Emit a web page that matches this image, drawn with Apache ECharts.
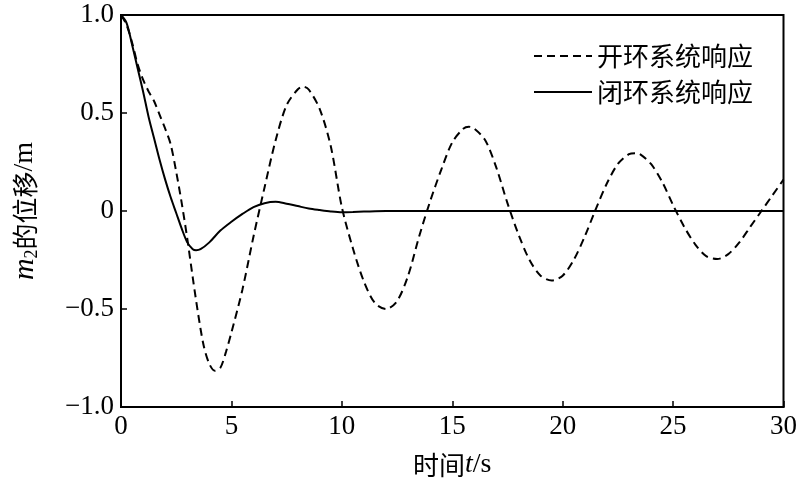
<!DOCTYPE html>
<html>
<head>
<meta charset="utf-8">
<script src="https://cdn.jsdelivr.net/npm/echarts@6/dist/echarts.min.js"></script>
<style>html,body{margin:0;padding:0;background:#fff}#c{width:800px;height:491px}</style>
</head>
<body>
<div id="c"></div>
<script>
// Data
const openT = [0,0.25,0.5,0.75,1.0,1.25,1.5,1.75,2.0,2.25,2.5,2.75,3.0,3.25,3.5,3.75,4.0,4.25,4.5,4.75,5.0,5.5,6.0,6.5,7.0,7.5,8.0,8.25,8.5,9.0,9.5,10.0,10.5,11.0,11.5,12.0,12.5,13.0,13.5,14.0,14.5,15.0,15.5,15.75,16.0,16.5,17.0,17.5,18.0,18.5,19.0,19.5,20.0,20.5,21.0,21.5,22.0,22.5,23.0,23.3,23.5,24.0,24.5,25.0,25.5,26.0,26.5,27.0,27.5,28.0,28.5,29.0,29.5,30.0];
const openV = [1.0,0.95,0.86,0.75,0.67,0.61,0.56,0.49,0.42,0.34,0.20,0.04,-0.14,-0.34,-0.53,-0.69,-0.78,-0.815,-0.80,-0.72,-0.62,-0.40,-0.13,0.12,0.36,0.54,0.62,0.635,0.62,0.52,0.33,0.02,-0.19,-0.36,-0.47,-0.50,-0.46,-0.33,-0.13,0.05,0.21,0.35,0.42,0.43,0.42,0.36,0.22,0.04,-0.12,-0.25,-0.33,-0.355,-0.33,-0.25,-0.13,0.01,0.14,0.24,0.29,0.295,0.29,0.24,0.15,0.03,-0.08,-0.17,-0.23,-0.245,-0.22,-0.16,-0.08,0.0,0.08,0.16];
const closedT = [0,0.25,0.5,0.75,1.0,1.25,1.5,1.75,2.0,2.25,2.5,2.75,3.0,3.25,3.4,3.6,4.0,4.5,5.0,5.5,6.0,6.5,7.0,7.5,8.0,8.5,9.0,9.5,10.0,10.5,11.0,12.0,14.0,16.0,18.0,20.0,22.0,24.0,26.0,28.0,30.0];
const closedV = [1.0,0.96,0.85,0.73,0.61,0.48,0.37,0.26,0.16,0.07,-0.01,-0.09,-0.16,-0.195,-0.20,-0.195,-0.16,-0.10,-0.055,-0.015,0.02,0.04,0.047,0.037,0.025,0.013,0.005,-0.002,-0.006,-0.005,-0.003,0,0,0,0,0,0,0,0,0,0];
const seriesNames = ['开环系统响应','闭环系统响应'];
const xTicks = [0,5,10,15,20,25,30];
const yTicks = [-1.0,-0.5,0,0.5,1.0];

const pair = (t, v) => t.map((x, i) => [x, v[i]]);
const serif = '"Liberation Serif","Times New Roman",serif';
const cjk = '"Noto Sans CJK SC",sans-serif';

const chart = echarts.init(document.getElementById('c'), null, {renderer: 'canvas'});
chart.setOption({
  backgroundColor: '#fff',
  animation: false,
  grid: {left: 121, right: 14, top: 15, bottom: 84, show: true, borderColor: '#000', borderWidth: 2, backgroundColor: 'transparent'},
  legend: {
    orient: 'vertical', right: 42, top: 38, itemGap: 10, itemWidth: 58, itemHeight: 26,
    data: seriesNames,
    itemStyle: {opacity: 0},
    textStyle: {fontFamily: cjk, fontSize: 26, color: '#000', padding: [0,0,0,0]}
  },
  xAxis: {
    type: 'value', min: xTicks[0], max: xTicks[xTicks.length - 1], interval: 5,
    axisLine: {onZero: false, lineStyle: {color: '#000', width: 2}},
    axisTick: {inside: true, length: 6, lineStyle: {color: '#000', width: 1.5}},
    splitLine: {show: false},
    axisLabel: {color: '#000', fontFamily: serif, fontSize: 27, margin: 6},
    name: '{c|时间}{i|t}{s|/s}', nameLocation: 'middle', nameGap: 44,
    nameTextStyle: {rich: {
      c: {fontFamily: cjk, fontSize: 26, color: '#000'},
      i: {fontFamily: serif, fontStyle: 'italic', fontSize: 28, color: '#000'},
      s: {fontFamily: serif, fontSize: 28, color: '#000'}
    }}
  },
  yAxis: {
    type: 'value', min: yTicks[0], max: yTicks[yTicks.length - 1], interval: 0.5,
    axisLine: {onZero: false, lineStyle: {color: '#000', width: 2}},
    axisTick: {inside: true, length: 6, lineStyle: {color: '#000', width: 1.5}},
    splitLine: {show: false},
    axisLabel: {color: '#000', fontFamily: serif, fontSize: 27, margin: 7,
      formatter: v => v === 0 ? '0' : v.toFixed(1).replace('-', '\u2212')},
    name: '{i|m}{sub|2}{c|的位移}{s|/m}', nameLocation: 'middle', nameGap: 80, nameRotate: 90,
    nameTextStyle: {rich: {
      i: {fontFamily: serif, fontStyle: 'italic', fontSize: 30, color: '#000'},
      sub: {fontFamily: serif, fontSize: 18, color: '#000', padding: [14,0,0,0]},
      c: {fontFamily: cjk, fontSize: 26, color: '#000'},
      s: {fontFamily: serif, fontSize: 28, color: '#000'}
    }}
  },
  series: [
    {name: seriesNames[0], type: 'line', data: pair(openT, openV), smooth: 0.3, symbol: 'none',
     lineStyle: {color: '#000', width: 2, type: [8, 5]}, itemStyle: {color: '#000'}},
    {name: seriesNames[1], type: 'line', data: pair(closedT, closedV), smooth: 0.3, symbol: 'none',
     lineStyle: {color: '#000', width: 2}, itemStyle: {color: '#000'}}
  ]
});
</script>
</body>
</html>
